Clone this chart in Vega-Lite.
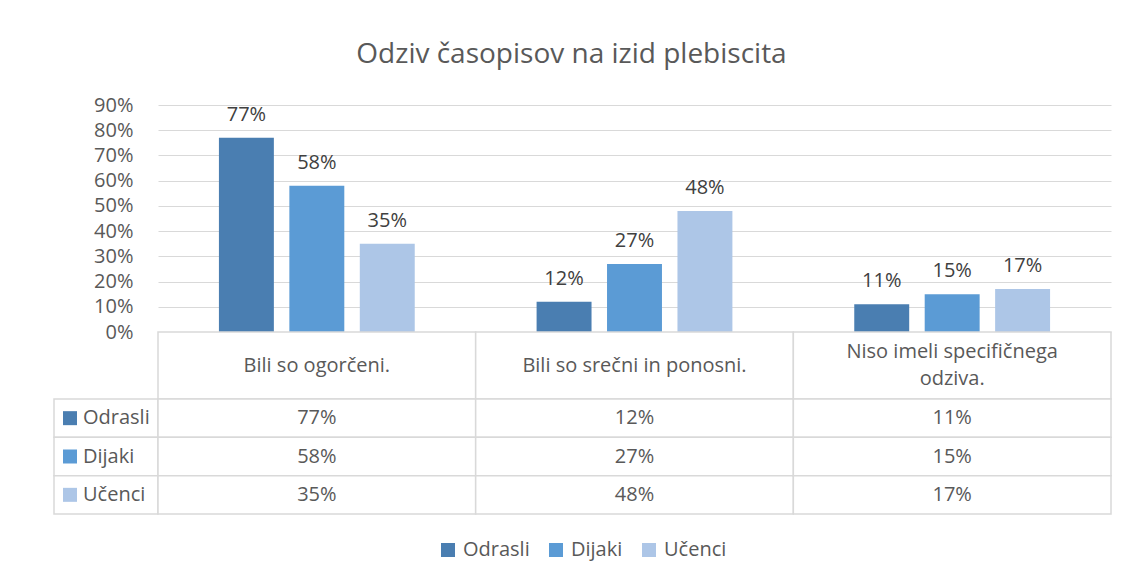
{
  "$schema": "https://vega.github.io/schema/vega-lite/v6.json",
  "padding": {"left": 53, "top": 41, "right": 13, "bottom": 10},
  "background": "white",
  "title": {"text": "Odziv časopisov na izid plebiscita", "fontSize": 28, "fontWeight": "normal", "color": "#595959", "anchor": "middle", "offset": 26, "dx": -11},
  "datasets": {
    "podatki": [
      {"kategorija": "Bili so ogorčeni.", "skupina": "Odrasli", "delez": 0.77},
      {"kategorija": "Bili so ogorčeni.", "skupina": "Dijaki", "delez": 0.58},
      {"kategorija": "Bili so ogorčeni.", "skupina": "Učenci", "delez": 0.35},
      {"kategorija": "Bili so srečni in ponosni.", "skupina": "Odrasli", "delez": 0.12},
      {"kategorija": "Bili so srečni in ponosni.", "skupina": "Dijaki", "delez": 0.27},
      {"kategorija": "Bili so srečni in ponosni.", "skupina": "Učenci", "delez": 0.48},
      {"kategorija": "Niso imeli specifičnega odziva.", "skupina": "Odrasli", "delez": 0.11},
      {"kategorija": "Niso imeli specifičnega odziva.", "skupina": "Dijaki", "delez": 0.15},
      {"kategorija": "Niso imeli specifičnega odziva.", "skupina": "Učenci", "delez": 0.17}
    ],
    "naslovi": [
      {"kategorija": "Bili so ogorčeni.", "naslov": "Bili so ogorčeni."},
      {"kategorija": "Bili so srečni in ponosni.", "naslov": "Bili so srečni in ponosni."},
      {"kategorija": "Niso imeli specifičnega odziva.", "naslov": "Niso imeli specifičnega\nodziva."}
    ],
    "skupine": [{"skupina": "Odrasli"}, {"skupina": "Dijaki"}, {"skupina": "Učenci"}]
  },
  "columns": 2,
  "spacing": 0,
  "bounds": "flush",
  "concat": [
    {
      "width": 104, "height": 227,
      "data": {"name": "skupine"},
      "mark": {"type": "point", "opacity": 0},
      "encoding": {}
    },
    {
      "width": 953, "height": 227,
      "data": {"name": "podatki"},
      "encoding": {
        "x": {"field": "kategorija", "type": "nominal", "sort": null, "axis": null, "scale": {"paddingInner": 0, "paddingOuter": 0}},
        "xOffset": {"field": "skupina", "type": "nominal", "sort": ["Odrasli", "Dijaki", "Učenci"], "scale": {"paddingInner": 0.22, "paddingOuter": 0.865}},
        "y": {"field": "delez", "type": "quantitative", "scale": {"domain": [0, 0.9], "nice": false},
          "axis": {"values": [0, 0.1, 0.2, 0.3, 0.4, 0.5, 0.6, 0.7, 0.8, 0.9], "format": ".0%", "title": null, "domain": false, "ticks": false, "tickSize": 0, "labelPadding": 25, "labelFontSize": 20, "labelColor": "#595959", "gridColor": "#d9d9d9", "gridWidth": 1.2}}
      },
      "layer": [
        {
          "mark": {"type": "bar"},
          "encoding": {
            "color": {"field": "skupina", "type": "nominal", "sort": ["Odrasli", "Dijaki", "Učenci"],
              "scale": {"domain": ["Odrasli", "Dijaki", "Učenci"], "range": ["#4a7eb1", "#5b9bd5", "#adc6e7"]},
              "legend": {"orient": "bottom", "direction": "horizontal", "title": null, "symbolType": "square", "symbolSize": 196, "symbolStrokeWidth": 0, "labelFontSize": 20, "labelColor": "#595959", "columnPadding": 16, "labelOffset": 5, "offset": 25}}
          }
        },
        {
          "mark": {"type": "text", "dy": -17, "baseline": "alphabetic", "fontSize": 20, "color": "#404040"},
          "encoding": {"text": {"field": "delez", "type": "quantitative", "format": ".0%"}}
        }
      ]
    },
    {
      "width": 104, "height": 67,
      "data": {"name": "skupine"},
      "mark": {"type": "point", "opacity": 0},
      "encoding": {}
    },
    {
      "width": 953, "height": 67,
      "data": {"name": "naslovi"},
      "encoding": {
        "x": {"field": "kategorija", "type": "nominal", "sort": null, "axis": null, "scale": {"paddingInner": 0, "paddingOuter": 0}}
      },
      "layer": [
        {"mark": {"type": "rect", "fill": "white", "stroke": "#d9d9d9", "strokeWidth": 1.5}},
        {"transform": [{"filter": "indexof(datum.naslov, '\\n') < 0"}],
          "mark": {"type": "text", "fontSize": 20, "color": "#595959"}, "encoding": {"text": {"field": "naslov"}}},
        {"transform": [{"filter": "indexof(datum.naslov, '\\n') >= 0"}],
          "mark": {"type": "text", "fontSize": 20, "color": "#595959", "lineBreak": "\n", "lineHeight": 27, "dy": -13.5}, "encoding": {"text": {"field": "naslov"}}}
      ]
    },
    {
      "width": 104, "height": 115,
      "data": {"name": "skupine"},
      "encoding": {
        "y": {"field": "skupina", "type": "nominal", "sort": ["Odrasli", "Dijaki", "Učenci"], "axis": null, "scale": {"paddingInner": 0, "paddingOuter": 0}}
      },
      "layer": [
        {"mark": {"type": "rect", "fill": "white", "stroke": "#d9d9d9", "strokeWidth": 1.5}},
        {"mark": {"type": "point", "shape": "square", "filled": true, "size": 196, "opacity": 1},
          "encoding": {"color": {"field": "skupina", "type": "nominal", "legend": null}, "xOffset": {"value": -36}}},
        {"mark": {"type": "text", "align": "left", "dx": -23, "fontSize": 20, "color": "#595959"}, "encoding": {"text": {"field": "skupina"}}}
      ]
    },
    {
      "width": 953, "height": 115,
      "data": {"name": "podatki"},
      "encoding": {
        "x": {"field": "kategorija", "type": "nominal", "sort": null, "axis": null, "scale": {"paddingInner": 0, "paddingOuter": 0}},
        "y": {"field": "skupina", "type": "nominal", "sort": ["Odrasli", "Dijaki", "Učenci"], "axis": null, "scale": {"paddingInner": 0, "paddingOuter": 0}}
      },
      "layer": [
        {"mark": {"type": "rect", "fill": "white", "stroke": "#d9d9d9", "strokeWidth": 1.5}},
        {"mark": {"type": "text", "fontSize": 20, "color": "#595959"}, "encoding": {"text": {"field": "delez", "type": "quantitative", "format": ".0%"}}}
      ]
    }
  ],
  "resolve": {"scale": {"color": "shared"}},
  "config": {
    "font": "Open Sans",
    "view": {"stroke": null},
    "legend": {"layout": {"bottom": {"anchor": "middle"}}}
  }
}
